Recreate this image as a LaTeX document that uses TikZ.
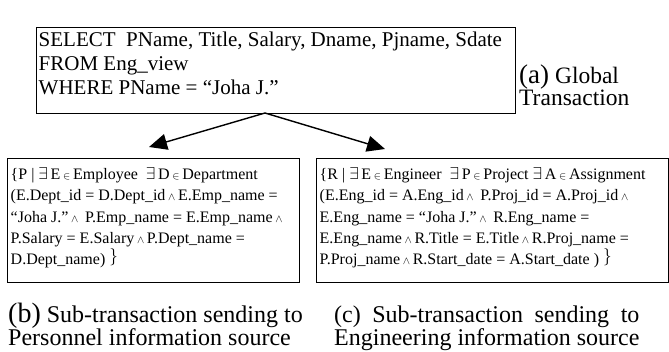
\documentclass[tikz,border=0pt]{standalone}
\usepackage{fontspec}
\setmainfont{Liberation Serif}
\usetikzlibrary{arrows.meta}
\newlength\capcw
\newcommand{\cnd}{\,$\scriptstyle\wedge$\,}
\newcommand{\ein}{\,$\scriptstyle\in$\,}
\newcommand{\ex}{$\exists$\,}
\newcommand{\closebr}{\raisebox{3bp}{$\big\}$}}
\begin{document}
\begin{tikzpicture}[x=1bp,y=-1bp,
  box/.style={draw, line width=1.4bp, inner sep=0pt, anchor=north west},
  link/.style={line width=1.4bp, -{Triangle[length=18bp,width=16bp]}},
  lbl/.style={inner sep=0pt, anchor=base west}]
\useasboundingbox (0,0) rectangle (669,351);
% global transaction
\node[box] (top) at (36,27) {\parbox[c][86bp][t]{479bp}{\leftskip=2bp
  \fontsize{21bp}{23.7bp}\selectfont
  \rule{0pt}{19bp}SELECT\ \ PName, Title, Salary, Dname, Pjname, Sdate\\
  FROM Eng\_view\\
  WHERE PName = “Joha J.”}};
\node[lbl] (la) at (519,83) {\parbox[t]{150bp}{\fontsize{23.5bp}{22bp}\selectfont
  {\fontsize{27bp}{27bp}\selectfont(a)} Global\\Transaction}};
% sub-transaction boxes
\node[box] (pers) at (7,158) {\parbox[c][124bp][t]{292bp}{\leftskip=3bp
  \fontsize{16bp}{21.2bp}\selectfont
  \rule{0pt}{21bp}\{P | \ex E\ein Employee\ \ \ex D\ein Department\\
  (E.Dept\_id = D.Dept\_id\cnd E.Emp\_name =\\
  “Joha J.”\cnd\ P.Emp\_name = E.Emp\_name\cnd\\
  P.Salary = E.Salary\cnd P.Dept\_name =\\
  D.Dept\_name)\ \closebr}};
\node[box] (eng) at (316,158) {\parbox[c][124bp][t]{352bp}{\leftskip=3bp
  \fontsize{16bp}{21.2bp}\selectfont
  \rule{0pt}{21bp}\{R | \ex E\ein Engineer\ \ \ex P\ein Project \ex A\ein Assignment\\
  (E.Eng\_id = A.Eng\_id\cnd\ P.Proj\_id = A.Proj\_id\cnd\\
  E.Eng\_name = “Joha J.”\cnd\ R.Eng\_name =\\
  E.Eng\_name\cnd R.Title = E.Title\cnd R.Proj\_name =\\
  P.Proj\_name\cnd R.Start\_date = A.Start\_date )\ \closebr}};
% arrows
\coordinate (src) at (265,113);
\coordinate (lt) at (149,147);
\coordinate (rt) at (385,149);
\draw[link] (src) -- (lt);
\draw[link] (src) -- (rt);
% captions
\node[lbl] (cb) at (8,322) {\parbox[t]{320bp}{\fontsize{24bp}{22bp}\selectfont
  {\fontsize{28bp}{28bp}\selectfont(b)} Sub-transaction sending to\\
  Personnel information source}};
\node[lbl] (cc) at (334,322) {\fontsize{24bp}{22bp}\selectfont
  \settowidth\capcw{Engineering information source}%
  \parbox[t]{\capcw}{\makebox[\capcw][s]{(c) Sub-transaction sending to}\\
  Engineering information source}};
\end{tikzpicture}
\end{document}
